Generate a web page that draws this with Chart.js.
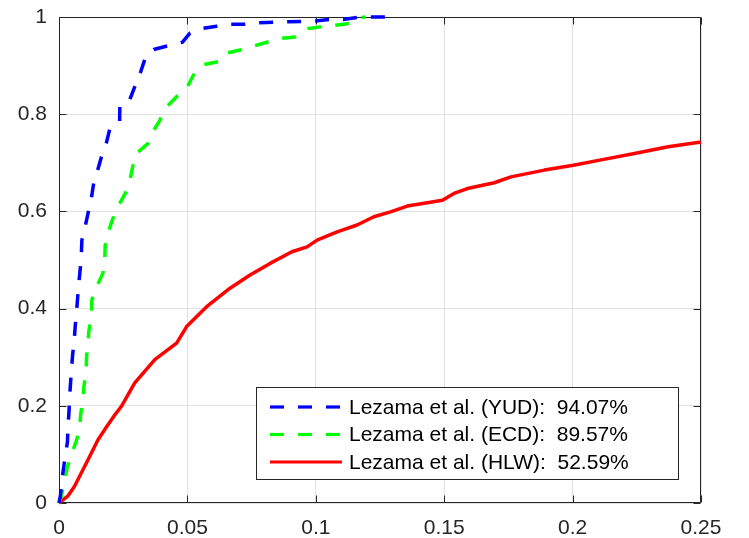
<!DOCTYPE html>
<html><head><meta charset="utf-8">
<script src="https://cdn.jsdelivr.net/npm/chart.js@4/dist/chart.umd.min.js"></script>
<style>html,body{margin:0;padding:0;background:#fff}#wrap{width:749px;height:538px}</style>
</head><body><div id="wrap"><canvas id="c" width="749" height="538"></canvas></div>
<script>
const seriesLabels = ['Lezama et al. (YUD):  94.07%', 'Lezama et al. (ECD):  89.57%', 'Lezama et al. (HLW):  52.59%'];
const seriesColors = ['#0000ff', '#00ff00', '#ff0000'];

const yudX = [0, 0.0006, 0.0009, 0.0018, 0.0025, 0.0033, 0.0035, 0.0039, 0.0041, 0.0045, 0.0049, 0.0053, 0.0059, 0.0063, 0.0068, 0.0073, 0.0077, 0.0083, 0.0087, 0.0089, 0.0102, 0.0113, 0.0126, 0.0135, 0.0149, 0.0165, 0.0184, 0.0197, 0.0236, 0.0237, 0.0275, 0.0299, 0.0318, 0.0338, 0.0369, 0.0425, 0.0480, 0.0510, 0.0555, 0.0614, 0.0666, 0.0725, 0.0775, 0.0834, 0.0889, 0.0947, 0.0998, 0.1057, 0.1107, 0.1174, 0.1225, 0.128];
const yudY = [0, 0.017, 0.038, 0.073, 0.099, 0.126, 0.157, 0.188, 0.216, 0.247, 0.278, 0.305, 0.332, 0.363, 0.391, 0.425, 0.452, 0.483, 0.510, 0.541, 0.569, 0.596, 0.627, 0.658, 0.682, 0.712, 0.740, 0.768, 0.782, 0.819, 0.829, 0.862, 0.887, 0.919, 0.933, 0.941, 0.948, 0.967, 0.976, 0.981, 0.985, 0.985, 0.988, 0.989, 0.990, 0.991, 0.992, 0.995, 0.995, 1.0, 1.0, 1.0];

const ecdX = [0, 0.0009, 0.0014, 0.0032, 0.0045, 0.0067, 0.0080, 0.0084, 0.0093, 0.0097, 0.0106, 0.0107, 0.0113, 0.0116, 0.0126, 0.0128, 0.0145, 0.0171, 0.0178, 0.0180, 0.0191, 0.0210, 0.0230, 0.0259, 0.0275, 0.0288, 0.0295, 0.0347, 0.0366, 0.0393, 0.0419, 0.0458, 0.0497, 0.0523, 0.0555, 0.0620, 0.0646, 0.0705, 0.0757, 0.0816, 0.0868, 0.0920, 0.0966, 0.1024, 0.1076, 0.1135, 0.1180, 0.1193];
const ecdY = [0, 0.014, 0.027, 0.073, 0.095, 0.127, 0.151, 0.181, 0.212, 0.240, 0.270, 0.299, 0.329, 0.353, 0.384, 0.418, 0.443, 0.473, 0.500, 0.531, 0.556, 0.586, 0.610, 0.638, 0.661, 0.695, 0.716, 0.740, 0.764, 0.788, 0.815, 0.836, 0.853, 0.880, 0.901, 0.908, 0.925, 0.932, 0.940, 0.949, 0.956, 0.959, 0.976, 0.980, 0.983, 0.987, 0.999, 1.0];

const hlwX = [0, 0.0034, 0.0060, 0.0113, 0.0152, 0.0178, 0.0217, 0.0243, 0.0295, 0.0373, 0.0458, 0.0497, 0.0575, 0.0666, 0.0744, 0.0822, 0.0907, 0.0966, 0.1005, 0.1083, 0.1161, 0.1226, 0.1291, 0.1356, 0.1434, 0.1493, 0.1538, 0.1590, 0.1695, 0.1760, 0.1890, 0.2003, 0.2111, 0.2241, 0.2372, 0.2500];
const hlwY = [0, 0.014, 0.034, 0.089, 0.130, 0.151, 0.181, 0.199, 0.247, 0.295, 0.329, 0.363, 0.404, 0.442, 0.469, 0.493, 0.517, 0.527, 0.541, 0.558, 0.572, 0.589, 0.599, 0.611, 0.618, 0.623, 0.637, 0.647, 0.659, 0.671, 0.685, 0.695, 0.706, 0.719, 0.733, 0.743];

const xTicks = [0, 0.05, 0.1, 0.15, 0.2, 0.25];
const yTicks = [0, 0.2, 0.4, 0.6, 0.8, 1];

const FONT = "'Liberation Sans', Arial, Helvetica, sans-serif";
const TEXT = '#262626';
const AXIS = '#262626';
const GRID = '#e1e1e1';

function pts(xs, ys) { return xs.map((x, i) => ({ x: x, y: ys[i] })); }

const matlabAxes = {
  id: 'matlabAxes',
  beforeDatasetsDraw(chart) {
    const ctx = chart.ctx, a = chart.chartArea, sx = chart.scales.x, sy = chart.scales.y;
    const L = Math.round(a.left) + 0.5, R = Math.round(a.right) - 0.5;
    const T = Math.round(a.top) + 0.5, B = Math.round(a.bottom) - 0.5;
    ctx.save();
    ctx.strokeStyle = AXIS; ctx.lineWidth = 1;
    ctx.beginPath();
    ctx.rect(L, T, R - L, B - T);
    xTicks.forEach(v => {
      const p = Math.round(sx.getPixelForValue(v)) + 0.5;
      ctx.moveTo(p, B); ctx.lineTo(p, B - 7);
      ctx.moveTo(p, T); ctx.lineTo(p, T + 7);
    });
    yTicks.forEach(v => {
      const p = Math.round(sy.getPixelForValue(v)) + 0.5;
      ctx.moveTo(L, p); ctx.lineTo(L + 7, p);
      ctx.moveTo(R, p); ctx.lineTo(R - 7, p);
    });
    ctx.stroke();
    ctx.restore();
  },
  afterDraw(chart) {
    const ctx = chart.ctx, a = chart.chartArea;
    const w = 422, h = 92;
    const bx = Math.round(a.right - 23 - w), by = Math.round(a.bottom - 24 - h);
    ctx.save();
    ctx.fillStyle = '#fff';
    ctx.fillRect(bx, by, w, h);
    ctx.strokeStyle = AXIS; ctx.lineWidth = 1;
    ctx.strokeRect(bx + 0.5, by + 0.5, w, h);
    ctx.font = '21px ' + FONT;
    ctx.textBaseline = 'middle';
    ctx.textAlign = 'left';
    chart.data.datasets.forEach((ds, i) => {
      const cy = by + 20 + i * 27.5;
      ctx.beginPath();
      ctx.setLineDash(ds.borderDash || []);
      ctx.strokeStyle = ds.borderColor;
      ctx.lineWidth = 3.2;
      ctx.moveTo(bx + 14, cy); ctx.lineTo(bx + 86, cy);
      ctx.stroke();
      ctx.setLineDash([]);
      ctx.fillStyle = '#000';
      ctx.fillText(ds.label, bx + 93, cy + 1);
    });
    ctx.restore();
  }
};

new Chart(document.getElementById('c'), {
  type: 'line',
  data: {
    datasets: [
      { label: seriesLabels[0], data: pts(yudX, yudY), borderColor: seriesColors[0], borderWidth: 3.5, borderDash: [14, 14], clip: false },
      { label: seriesLabels[1], data: pts(ecdX, ecdY), borderColor: seriesColors[1], borderWidth: 3.5, borderDash: [14, 14], clip: false },
      { label: seriesLabels[2], data: pts(hlwX, hlwY), borderColor: seriesColors[2], borderWidth: 3.5, clip: false }
    ]
  },
  options: {
    responsive: false,
    animation: false,
    devicePixelRatio: 1,
    layout: { padding: { top: 17, right: 48, left: 0, bottom: 0 } },
    plugins: { legend: { display: false }, tooltip: { enabled: false } },
    elements: { point: { radius: 0 }, line: { tension: 0, borderCapStyle: 'butt', borderJoinStyle: 'round' } },
    scales: {
      x: {
        type: 'linear', min: 0, max: 0.25,
        afterBuildTicks(s) { s.ticks = xTicks.map(v => ({ value: v })); },
        ticks: { font: { family: FONT, size: 21 }, color: TEXT, padding: 13, maxRotation: 0, callback: v => String(v) },
        grid: { color: GRID, drawTicks: false, lineWidth: 1 },
        border: { display: false },
        afterFit(s) { s.height = 35; s.paddingLeft = 0; s.paddingRight = 0; }
      },
      y: {
        type: 'linear', min: 0, max: 1,
        afterBuildTicks(s) { s.ticks = yTicks.map(v => ({ value: v })); },
        ticks: { font: { family: FONT, size: 21 }, color: TEXT, padding: 12, callback: v => String(v) },
        grid: { color: GRID, drawTicks: false, lineWidth: 1 },
        border: { display: false },
        afterFit(s) { s.width = 59; s.paddingTop = 0; s.paddingBottom = 0; }
      }
    }
  },
  plugins: [matlabAxes]
});
</script>
</body></html>
